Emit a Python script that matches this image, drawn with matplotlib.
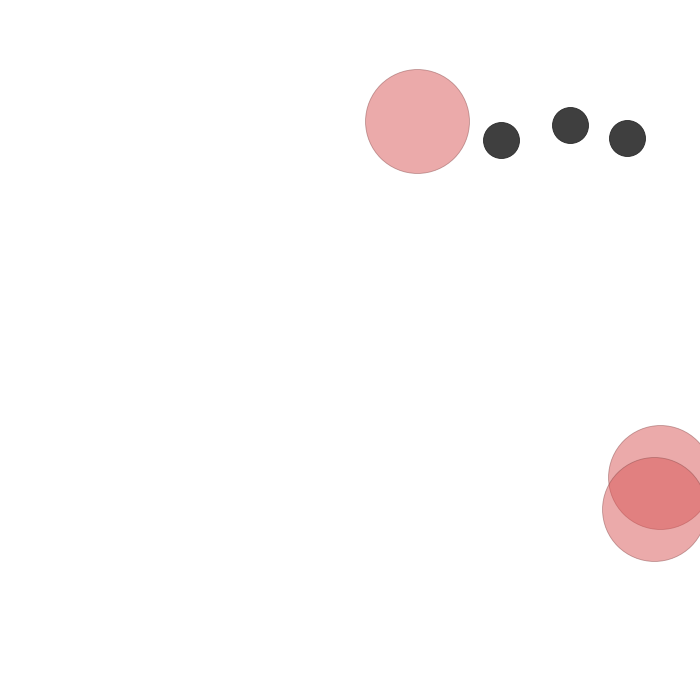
import matplotlib
matplotlib.use("Agg")
import matplotlib.pyplot as plt

# big (pink) points
big_x = [416.5, 660, 654]
big_y = [120.5, 476.5, 508.5]

# small (dark) points
small_x = [501, 569.5, 626.5]
small_y = [140, 124.5, 138]

fig = plt.figure(figsize=(7, 7), dpi=100)
ax = fig.add_axes([0, 0, 1, 1])

ax.scatter(big_x, big_y, s=5600, color="#d95757", alpha=0.5,
           edgecolors="#8a4a4a", linewidths=0.6)
ax.scatter(small_x, small_y, s=670, color="#3f3f3f",
           edgecolors="#2a2a2a", linewidths=0.6)

ax.set_xlim(0, 700)
ax.set_ylim(700, 0)
ax.axis("off")

fig.savefig("out.png", dpi=100)
